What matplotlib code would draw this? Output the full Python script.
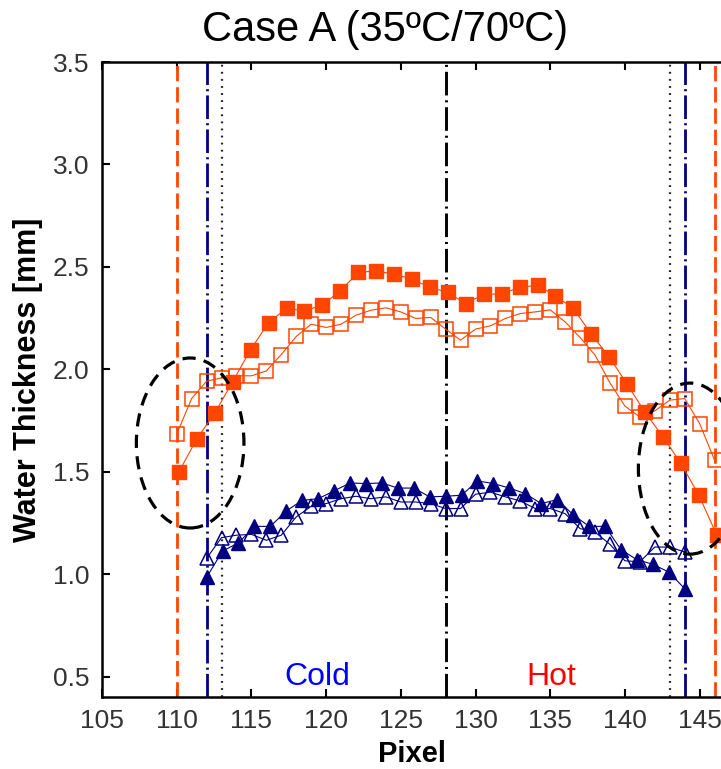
import matplotlib
matplotlib.use('Agg')
import matplotlib.pyplot as plt
from matplotlib.patches import Ellipse

plt.rcParams['font.family'] = ['Liberation Sans', 'DejaVu Sans']
plt.rcParams['lines.scale_dashes'] = False

# Hot side, filled squares (31 samples over 110..146)
hot_fill_x = [110.15, 111.35, 112.55, 113.75, 114.95, 116.15, 117.35, 118.55, 119.75, 120.95,
              122.15, 123.35, 124.55, 125.75, 126.95, 128.15, 129.35, 130.55, 131.75, 132.95,
              134.15, 135.35, 136.55, 137.75, 138.95, 140.15, 141.35, 142.55, 143.75, 144.95, 146.15]
hot_fill_y = [1.50, 1.66, 1.787, 1.94, 2.096, 2.228, 2.297, 2.285, 2.313, 2.383,
              2.473, 2.48, 2.464, 2.44, 2.40, 2.375, 2.32, 2.367, 2.367, 2.40,
              2.41, 2.358, 2.297, 2.171, 2.06, 1.927, 1.789, 1.67, 1.54, 1.385, 1.19]

# Hot side, open squares (one per pixel)
hot_open_x = list(range(110, 147))
hot_open_y = [1.683, 1.857, 1.942, 1.958, 1.968, 1.968, 1.992, 2.072, 2.16, 2.22, 2.204,
              2.22, 2.264, 2.288, 2.30, 2.28, 2.248, 2.253, 2.196, 2.142, 2.196, 2.212, 2.248, 2.272,
              2.28, 2.29, 2.231, 2.155, 2.069, 1.933, 1.82, 1.767, 1.797, 1.849, 1.857, 1.735, 1.556]

# Cold side, filled triangles (31 samples over 112..144)
cold_fill_x = [112.0, 113.07, 114.13, 115.2, 116.27, 117.33, 118.4, 119.47, 120.53, 121.6,
               122.67, 123.73, 124.8, 125.87, 126.93, 128.0, 129.07, 130.13, 131.2, 132.27,
               133.33, 134.4, 135.47, 136.53, 137.6, 138.67, 139.73, 140.8, 141.87, 142.93, 144.0]
cold_fill_y = [0.984, 1.113, 1.152, 1.233, 1.233, 1.308, 1.36, 1.368, 1.406, 1.445,
               1.442, 1.445, 1.42, 1.42, 1.377, 1.38, 1.385, 1.455, 1.442, 1.42,
               1.393, 1.344, 1.364, 1.29, 1.233, 1.233, 1.12, 1.07, 1.048, 1.01, 0.929]

# Cold side, open triangles (one per pixel)
cold_open_x = list(range(112, 145))
cold_open_y = [1.077, 1.178, 1.19, 1.194, 1.165, 1.19, 1.279, 1.331, 1.344, 1.368, 1.38,
               1.368, 1.377, 1.352, 1.352, 1.344, 1.32, 1.32, 1.39, 1.40, 1.377, 1.357,
               1.32, 1.32, 1.295, 1.222, 1.205, 1.145, 1.065, 1.06, 1.132, 1.132, 1.108]

# boundary lines
hot_edges = [110, 146]
cold_edges = [112, 144]
dot_edges = [113, 143]
center_px = 128

# dashed ellipses: (x, y, width, height) in data units
ellipses = [(110.9, 1.64, 7.2, 0.83), (144.35, 1.515, 6.9, 0.835)]

xticks = [105, 110, 115, 120, 125, 130, 135, 140, 145]
yticks = [0.5, 1.0, 1.5, 2.0, 2.5, 3.0, 3.5]

orange = '#FF4500'
navy = '#000080'

fig = plt.figure(figsize=(7.21, 7.69), dpi=100)
ax = fig.add_axes([102/721, 1 - 697/769, 1 - 102/721, (697 - 62)/769])

# vertical reference lines
for xv in hot_edges:
    ax.axvline(xv, color=orange, lw=2.0, dashes=(11, 4.3))
for xv in cold_edges:
    ax.axvline(xv, color=navy, lw=2.0, dashes=(17, 3, 1.5, 3))
for xv in dot_edges:
    ax.axvline(xv, color='#222222', lw=1.6, dashes=(1.3, 3.8))
ax.axvline(center_px, color='black', lw=2.1, dashes=(17, 3.5, 1.5, 3.5))

# data series
ax.plot(hot_open_x, hot_open_y, color=orange, lw=0.8, marker='s', ms=9.5,
        mfc='none', mec=orange, mew=1.1)
ax.plot(hot_fill_x, hot_fill_y, color=orange, lw=0.8, marker='s', ms=10,
        mfc=orange, mec=orange)
ax.plot(cold_open_x, cold_open_y, color=navy, lw=0.8, marker='^', ms=9.5,
        mfc='none', mec=navy, mew=1.1)
ax.plot(cold_fill_x, cold_fill_y, color=navy, lw=0.8, marker='^', ms=10,
        mfc=navy, mec=navy)

for ex, ey, ew, eh in ellipses:
    ax.add_patch(Ellipse((ex, ey), ew, eh, fill=False, ec='black', lw=2.3,
                         ls=(0, (9.5, 6)), zorder=5))

ax.text(119.4, 0.5, 'Cold', color='#0000FF', fontsize=23, ha='center', va='center')
ax.text(135.1, 0.5, 'Hot', color='#FF0000', fontsize=23, ha='center', va='center')

ax.set_xlim(105, 146.43)
ax.set_ylim(0.4, 3.5)
ax.set_xticks(xticks)
ax.set_yticks(yticks)
ax.set_yticklabels(['%.1f' % v for v in yticks])
ax.tick_params(direction='in', length=6, width=1.5, labelsize=19, colors='black',
               labelcolor='#333333', top=True, pad=9)
for s in ['left', 'bottom', 'top']:
    ax.spines[s].set_linewidth(1.8)
ax.spines['right'].set_visible(False)

ax.set_xlabel('Pixel', fontsize=21, fontweight='bold', labelpad=5)
ax.set_ylabel('Water Thickness [mm]', fontsize=22, fontweight='bold', labelpad=7)
fig.text(385/721, 1 - 30/769, 'Case A (35ºC/70ºC)', fontsize=30, ha='center', va='center')

fig.savefig('out.png', dpi=100)
